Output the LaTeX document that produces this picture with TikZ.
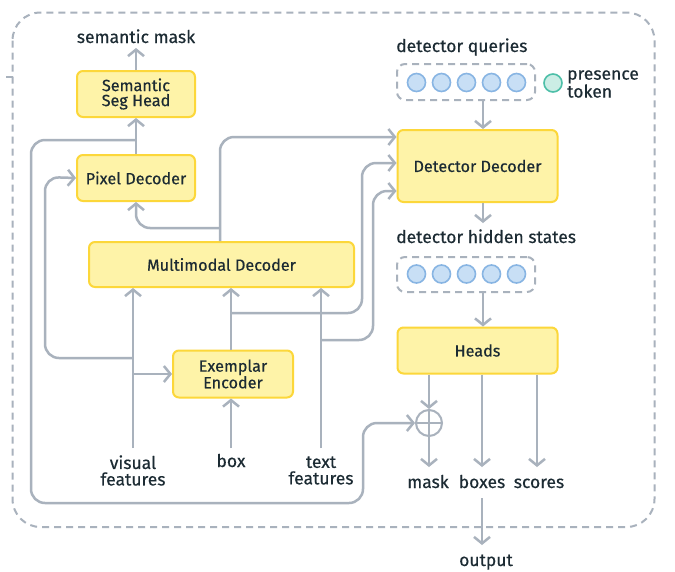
\documentclass[tikz,border=0pt]{standalone}
\usepackage{fontspec}
\setmainfont{Fira Sans}[FakeBold=0.45]
\usetikzlibrary{arrows.meta,calc}
\definecolor{ln}{HTML}{A9B2BD}
\definecolor{yf}{HTML}{FEF3A8}
\definecolor{yb}{HTML}{FCD73A}
\definecolor{tx}{HTML}{1C2B33}
\definecolor{cf}{HTML}{C8DFF5}
\definecolor{cb}{HTML}{88B5E3}
\definecolor{tf}{HTML}{CBEDE5}
\definecolor{tb}{HTML}{4DBFA8}
\begin{document}
\begin{tikzpicture}[x=1pt,y=-1pt,
  blk/.style={draw=yb,fill=yf,line width=2pt,rounded corners=6pt,text=tx,
    font=\fontsize{16.2}{15}\selectfont,align=center,inner sep=0pt},
  wire/.style={draw=ln,line width=2.5pt,rounded corners=14pt},
  arr/.style={wire,-{Straight Barb[length=6.5pt,width=16pt]}},
  lbl/.style={text=tx,font=\fontsize{17.5}{16.5}\selectfont,align=center,inner sep=0pt},
  dbox/.style={draw=ln,line width=2pt,dash pattern=on 7pt off 5pt,rounded corners=8pt},
  tok/.style={circle,draw=cb,fill=cf,line width=1.6pt,minimum size=18pt,inner sep=0pt},
  ptok/.style={circle,draw=tb,fill=tf,line width=1.6pt,minimum size=18pt,inner sep=0pt}]
\useasboundingbox[fill=white] (0,0) rectangle (675,571);
% outer dashed frame
\draw[ln,line width=2pt,dash pattern=on 7pt off 5pt,rounded corners=28pt] (12.5,12.5) rectangle (654.5,527);
\draw[ln,line width=2pt] (6,77) -- (12.5,77);
% blocks
\node[blk,minimum width=118pt,minimum height=46pt] (seg) at (136,94) {Semantic\\Seg Head};
\node[blk,minimum width=118pt,minimum height=46pt] (pix) at (136,178) {Pixel Decoder};
\node[blk,minimum width=265pt,minimum height=45pt] (mm) at (221.5,264.5) {Multimodal Decoder};
\node[blk,minimum width=120pt,minimum height=47pt] (ex) at (233,374) {Exemplar\\Encoder};
\node[blk,minimum width=160pt,minimum height=72pt] (dd) at (477.5,166) {Detector Decoder};
\node[blk,minimum width=160pt,minimum height=46pt] (heads) at (477.5,350.5) {Heads};
% token boxes
\node[dbox,minimum width=138pt,minimum height=36pt] (qbox) at (466,82) {};
\node[dbox,minimum width=138pt,minimum height=35pt] (hbox) at (466,274.5) {};
\foreach \i in {0,...,4}{
  \node[tok] (q\i) at (416.5+25*\i,82.5) {};
  \node[tok] (h\i) at (416.5+25*\i,274) {};
}
\node[ptok] (pres) at (553,83) {};
\node[lbl,anchor=west,align=left,font=\fontsize{17.5}{14}\selectfont] (prest) at (567,84) {presence\\token};
% labels
\node[lbl,anchor=base] (sm) at (136,43) {semantic mask};
\node[lbl,anchor=base west] (dq) at (396,52) {detector queries};
\node[lbl,anchor=base west] (dh) at (396,243) {detector hidden states};
\node[lbl] (vis) at (133,470.5) {visual\\features};
\node[lbl,anchor=base] (boxl) at (231,467) {box};
\node[lbl] (txt) at (321,470.5) {text\\features};
\node[lbl,anchor=base] (mask) at (428,488) {mask};
\node[lbl,anchor=base] (boxes) at (482,488) {boxes};
\node[lbl,anchor=base] (scores) at (539,488) {scores};
\node[lbl,anchor=base] (out) at (486,566) {output};
% plus
\node[circle,draw=ln,line width=2pt,minimum size=26pt,inner sep=0pt] (plus) at (429,423) {};
\draw[ln,line width=2pt] (plus.north) -- (plus.south) (plus.west) -- (plus.east);
% coordinates
\coordinate (jseg) at (136,140);
\coordinate (smin) at (136,48);
\coordinate (dhin) at (483,223);
\coordinate (maskin) at (429,467);
\coordinate (boxesin) at (482,467);
\coordinate (scoresin) at (537,467);
\coordinate (outin) at (482,545);
% left column
\draw[arr] (pix.north) -- (seg.south);
\draw[arr] (seg.north) -- (smin);
\draw[arr] (jseg) -- (31,140) -- (31,503) -- (363,503) -- (363,423) -- (plus.west);
% visual features
\draw[arr] (133,448) -- (mm.south -| 133,0);
\draw[arr] (133,358) -- (45,358) -- (45,177) -- (pix.west);
\draw[arr] (133,374) -- (ex.west);
% box
\draw[arr] (231,448) -- (ex.south -| 231,0);
\draw[arr] (ex.north -| 231,0) -- (mm.south -| 231,0);
\draw[arr] (231,313) -- (362,313) -- (362,163) -- (dd.west |- 0,163);
% text features
\draw[arr] (321,448) -- (mm.south -| 321,0);
\draw[arr] (321,340) -- (373,340) -- (373,191) -- (dd.west |- 0,191);
% multimodal out
\draw[arr] (mm.north -| 220,0) -- (220,137) -- (dd.west |- 0,137);
\draw[arr] (220,228) -- (136,228) -- (pix.south);
% right column
\draw[arr] (qbox.south -| 483,0) -- (dd.north -| 483,0);
\draw[arr] (dd.south -| 483,0) -- (dhin);
\draw[arr] (hbox.south -| 483,0) -- (heads.north -| 483,0);
\draw[arr] (heads.south -| 429,0) -- (plus.north);
\draw[arr] (plus.south) -- (maskin);
\draw[arr] (heads.south -| 482,0) -- (boxesin);
\draw[arr] (heads.south -| 537,0) -- (scoresin);
\draw[arr] (482,498) -- (outin);
\end{tikzpicture}
\end{document}
